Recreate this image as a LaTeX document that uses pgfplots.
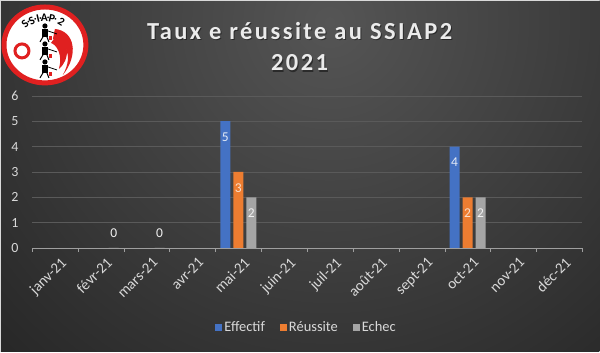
\documentclass[border=0pt]{standalone}
\usepackage{pgfplots}
\pgfplotsset{compat=1.18}
\usepackage{fontspec}
\setmainfont{Carlito}
\newfontfamily\titlefont[LetterSpace=10]{Carlito}
\definecolor{cBlue}{HTML}{4472C4}
\definecolor{cOrange}{HTML}{ED7D31}
\definecolor{cGray}{HTML}{A5A5A5}
\definecolor{bgIn}{HTML}{555555}
\definecolor{bgOut}{HTML}{262626}
\definecolor{txt}{HTML}{D9D9D9}
\definecolor{gridc}{HTML}{5A5A5A}
\definecolor{logored}{HTML}{E02020}
\begin{document}
\begin{tikzpicture}
\begin{scope}[x=1pt,y=1pt]
% background
\begin{scope}
\clip (0,0) rectangle (600,352);
\shade[inner color=bgIn, outer color=bgOut] (330,330) circle (480);
\end{scope}
\draw[white!85!black, line width=1.5pt] (0.75,0) -- (0.75,351.25) -- (600,351.25);
% logo
\begin{scope}[shift={(45,307)}]
\fill[white] (0,0) ellipse (41 and 38);
\draw[logored, line width=5pt] (0,0) ellipse (41 and 38);
\fill[logored] (10,16) .. controls (30,14) and (34,-10) .. (18,-30) .. controls (30,-8) and (18,4) .. (8,6) -- cycle;
\fill[logored] (12,10) .. controls (24,4) and (26,-14) .. (14,-24) .. controls (18,-10) and (12,0) .. (6,2) -- cycle;
\draw[logored, line width=3pt] (-23,-6) circle (7);
\foreach \yy in {12,-6,-24}{
  \fill[black] (0,\yy+7) circle (2.6);
  \fill[black] (-3,\yy+4) rectangle (3,\yy-4);
  \draw[black, line width=1pt] (-2,\yy-4) -- (-5,\yy-9) (2,\yy-4) -- (4,\yy-9);
  \draw[black, line width=0.8pt] (3,\yy+2) -- (12,\yy-1);
  \fill[logored] (4,\yy-3) rectangle (7,\yy-7);
}
\foreach \c/\a in {S/130,./122,S/115,./108,I/103,./98,A/91,./84,P/77,./70,2/58}{
  \node[rotate=\a-90, font=\bfseries\fontsize{11.5}{11.5}\selectfont, inner sep=0pt] at (\a:31 and 27) {\c};
}
\end{scope}
% title
\node[text=black, opacity=0.45, font=\titlefont\bfseries\fontsize{24.5}{28}\selectfont] at (301,319.5) {Taux e réussite au SSIAP2};
\node[text=black, opacity=0.45, font=\titlefont\bfseries\fontsize{24.5}{28}\selectfont] at (301,287.5) {2021};
\node[text=white!92!black, font=\titlefont\bfseries\fontsize{24.5}{28}\selectfont] at (300,321) {Taux e réussite au SSIAP2};
\node[text=white!92!black, font=\titlefont\bfseries\fontsize{24.5}{28}\selectfont] at (300,289) {2021};
\end{scope}
\begin{axis}[
  at={(32pt,103.7pt)}, anchor=south west,
  scale only axis, width=551pt, height=152.3pt,
  xmin=-0.5, xmax=11.5, ymin=0, ymax=6,
  ytick={0,1,2,3,4,5,6},
  xtick={0,...,11},
  xticklabels={janv-21,févr-21,mars-21,avr-21,mai-21,juin-21,juil-21,août-21,sept-21,oct-21,nov-21,déc-21},
  minor xtick={-0.5,0.5,...,11.5},
  major tick length=0pt,
  minor tick length=4pt,
  tick align=outside,
  minor tick style={draw=gray!75},
  axis x line*=bottom, axis y line*=left,
  x axis line style={draw=gray!75, line width=0.8pt, -},
  y axis line style={draw=none},
  ymajorgrids, grid style={draw=gridc, line width=0.7pt},
  /pgf/number format/assume math mode=true,
  yticklabel style={font=\fontsize{14}{14}\selectfont, text=txt, xshift=-10pt},
  xticklabel style={font=\fontsize{15}{15}\selectfont, text=txt, rotate=45, anchor=north east, xshift=1pt, yshift=-6pt},
  ybar=3pt, bar width=10pt,
  nodes near coords,
  visualization depends on={y \as \rawy},
  every node near coord/.append style={anchor=center, font=\fontsize{13.5}{13.5}\selectfont,
     yshift={ifthenelse(\rawy>0,-16,15)*1pt}},
  legend columns=3,
  legend style={at={(0.4991,-0.523)}, anchor=center, draw=none, fill=none,
    text=txt, font=\fontsize{14.5}{14.5}\selectfont, inner sep=0pt,
    /tikz/every even column/.append style={column sep=13pt}},
  legend image code/.code={\fill[#1, draw=none] (0pt,-3.5pt) rectangle (7pt,3.5pt);},
]
\addplot[fill=cBlue, draw=none, every node near coord/.append style={text=white!85!cBlue}] coordinates {(4,5) (9,4)};
\addplot[fill=cOrange, draw=none, every node near coord/.append style={text=white!75!cOrange}] coordinates {(4,3) (9,2)};
\addplot[fill=cGray, draw=none, every node near coord/.append style={text=white!85!cGray}] coordinates {(1,0) (2,0) (4,2) (9,2)};
\legend{Effectif,Réussite,Echec}
\end{axis}
\end{tikzpicture}
\end{document}
